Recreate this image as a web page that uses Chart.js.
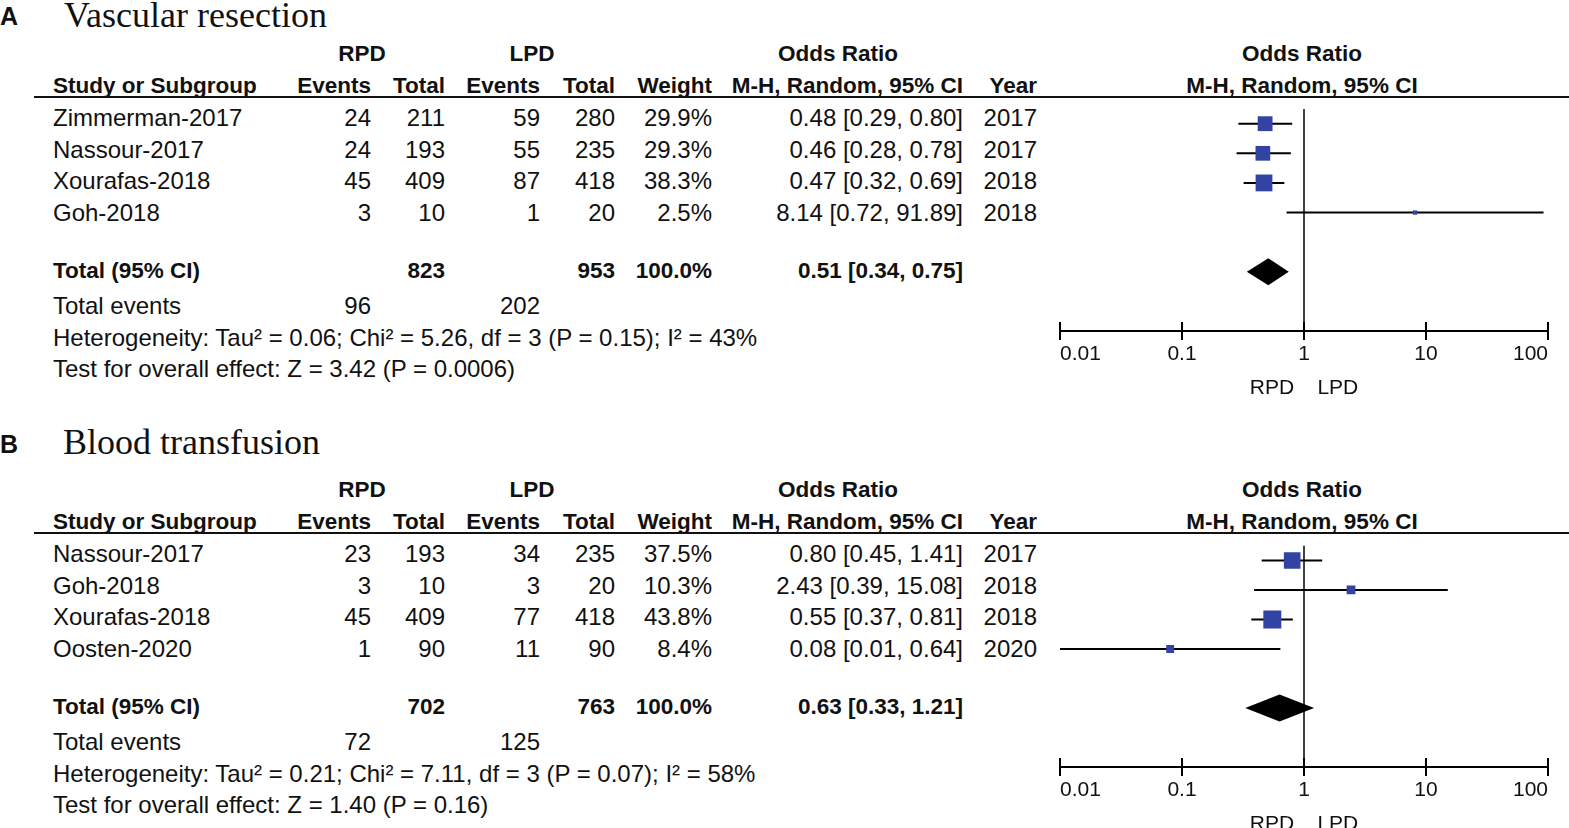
<!DOCTYPE html>
<html>
<head>
<meta charset="utf-8">
<script src="https://cdn.jsdelivr.net/npm/chart.js@4.4.1/dist/chart.umd.min.js"></script>
<style>
  html, body { margin: 0; padding: 0; background: #fff; }
  #page { position: relative; width: 1569px; height: 828px; overflow: hidden; }
  .plot { position: absolute; left: 1025px; width: 544px; height: 314px; }
</style>
</head>
<body>
<div id="page"></div>
<script>
// ---- data: panel A, vascular resection ----
var studiesA = ['Zimmerman-2017', 'Nassour-2017', 'Xourafas-2018', 'Goh-2018'];
var rpdEventsA = [24, 24, 45, 3];
var rpdTotalA = [211, 193, 409, 10];
var lpdEventsA = [59, 55, 87, 1];
var lpdTotalA = [280, 235, 418, 20];
var weightA = [29.9, 29.3, 38.3, 2.5];
var orA = [0.48, 0.46, 0.47, 8.14];
var loA = [0.29, 0.28, 0.32, 0.72];
var hiA = [0.80, 0.78, 0.69, 91.89];
var yearA = [2017, 2017, 2018, 2018];
var totalsA = [823, 953];
var totalEventsA = [96, 202];
var pooledA = [0.51, 0.34, 0.75];
var hetA = 'Heterogeneity: Tau² = 0.06; Chi² = 5.26, df = 3 (P = 0.15); I² = 43%';
var testA = 'Test for overall effect: Z = 3.42 (P = 0.0006)';

// ---- data: panel B, blood transfusion ----
var studiesB = ['Nassour-2017', 'Goh-2018', 'Xourafas-2018', 'Oosten-2020'];
var rpdEventsB = [23, 3, 45, 1];
var rpdTotalB = [193, 10, 409, 90];
var lpdEventsB = [34, 3, 77, 11];
var lpdTotalB = [235, 20, 418, 90];
var weightB = [37.5, 10.3, 43.8, 8.4];
var orB = [0.80, 2.43, 0.55, 0.08];
var loB = [0.45, 0.39, 0.37, 0.01];
var hiB = [1.41, 15.08, 0.81, 0.64];
var yearB = [2017, 2018, 2018, 2020];
var totalsB = [702, 763];
var totalEventsB = [72, 125];
var pooledB = [0.63, 0.33, 1.21];
var hetB = 'Heterogeneity: Tau² = 0.21; Chi² = 7.11, df = 3 (P = 0.07); I² = 58%';
var testB = 'Test for overall effect: Z = 1.40 (P = 0.16)';

// ---- axis ----
var tickValues = [0.01, 0.1, 1, 10, 100];
var tickLabels = ['0.01', '0.1', '1', '10', '100'];

var SANS = "'Liberation Sans', Arial, sans-serif";
var SERIF = "'Liberation Serif', 'Times New Roman', serif";
var page = document.getElementById('page');

function txt(x, cy, s, align, bold, size, family) {
  var d = document.createElement('div');
  d.textContent = s;
  var tx = align === 'right' ? '-100%' : (align === 'center' ? '-50%' : '0');
  d.style.cssText = 'position:absolute;white-space:pre;color:#111;' +
    'font:' + (bold ? 'bold ' : '') + size + 'px ' + (family || SANS) + ';line-height:1;' +
    'left:' + x + 'px;top:' + cy + 'px;transform:translate(' + tx + ',-50%)';
  page.appendChild(d);
}

function ci(v, lo, hi) {
  return v.toFixed(2) + ' [' + lo.toFixed(2) + ', ' + hi.toFixed(2) + ']';
}

// columns (right edges except study)
var col = { study: 53, rpdEv: 371, rpdTot: 445, lpdEv: 540, lpdTot: 615, weight: 712, or: 963, year: 1037 };
var R = 24, B = 22.5;

function table(base, studies, rpdEv, rpdTot, lpdEv, lpdTot, weight, or, lo, hi, year, totals, totEv, pooled, het, test) {
  txt(col.rpdEv - 9, 54 + base, 'RPD', 'center', true, B);
  txt(532, 54 + base, 'LPD', 'center', true, B);
  txt(838, 54 + base, 'Odds Ratio', 'center', true, B);
  txt(1302, 54 + base, 'Odds Ratio', 'center', true, B);

  txt(col.study, 86 + base, 'Study or Subgroup', 'left', true, B);
  txt(col.rpdEv, 86 + base, 'Events', 'right', true, B);
  txt(col.rpdTot, 86 + base, 'Total', 'right', true, B);
  txt(col.lpdEv, 86 + base, 'Events', 'right', true, B);
  txt(col.lpdTot, 86 + base, 'Total', 'right', true, B);
  txt(col.weight, 86 + base, 'Weight', 'right', true, B);
  txt(col.or, 86 + base, 'M-H, Random, 95% CI', 'right', true, B);
  txt(col.year, 86 + base, 'Year', 'right', true, B);
  txt(1302, 86 + base, 'M-H, Random, 95% CI', 'center', true, B);

  var line = document.createElement('div');
  line.style.cssText = 'position:absolute;left:34px;width:1535px;height:2px;background:#111;top:' + (96 + base) + 'px';
  page.appendChild(line);

  studies.forEach(function (s, i) {
    var y = 118 + i * 31.7 + base;
    txt(col.study, y, s, 'left', false, R);
    txt(col.rpdEv, y, String(rpdEv[i]), 'right', false, R);
    txt(col.rpdTot, y, String(rpdTot[i]), 'right', false, R);
    txt(col.lpdEv, y, String(lpdEv[i]), 'right', false, R);
    txt(col.lpdTot, y, String(lpdTot[i]), 'right', false, R);
    txt(col.weight, y, weight[i].toFixed(1) + '%', 'right', false, R);
    txt(col.or, y, ci(or[i], lo[i], hi[i]), 'right', false, R);
    txt(col.year, y, String(year[i]), 'right', false, R);
  });

  txt(col.study, 271 + base, 'Total (95% CI)', 'left', true, B);
  txt(col.rpdTot, 271 + base, String(totals[0]), 'right', true, B);
  txt(col.lpdTot, 271 + base, String(totals[1]), 'right', true, B);
  txt(col.weight, 271 + base, '100.0%', 'right', true, B);
  txt(col.or, 271 + base, ci(pooled[0], pooled[1], pooled[2]), 'right', true, B);

  txt(col.study, 306 + base, 'Total events', 'left', false, R);
  txt(col.rpdEv, 306 + base, String(totEv[0]), 'right', false, R);
  txt(col.lpdEv, 306 + base, String(totEv[1]), 'right', false, R);
  txt(col.study, 338 + base, het, 'left', false, R);
  txt(col.study, 369 + base, test, 'left', false, R);
}

// null line, upper half of ticks and the pooled diamond
var forestExtras = {
  id: 'forestExtras',
  afterDatasetsDraw: function (chart, args, opts) {
    var ctx = chart.ctx, area = chart.chartArea;
    var x = chart.scales.x, y = chart.scales.y;
    ctx.save();
    ctx.strokeStyle = '#000';
    ctx.lineWidth = 1.5;
    ctx.beginPath();
    var x1 = x.getPixelForValue(1);
    ctx.moveTo(x1, area.top);
    ctx.lineTo(x1, area.bottom);
    ctx.stroke();

    ctx.lineWidth = 2;
    ctx.beginPath();
    x.ticks.forEach(function (t) {
      var px = x.getPixelForValue(t.value);
      ctx.moveTo(px, area.bottom - 9);
      ctx.lineTo(px, area.bottom);
    });
    ctx.stroke();

    var p = opts.pooled;
    var yc = y.getPixelForValue(opts.row);
    var xm = x.getPixelForValue(p[0]), xl = x.getPixelForValue(p[1]), xr = x.getPixelForValue(p[2]);
    ctx.fillStyle = '#000';
    ctx.beginPath();
    ctx.moveTo(xl, yc);
    ctx.lineTo(xm, yc - 13.5);
    ctx.lineTo(xr, yc);
    ctx.lineTo(xm, yc + 13.5);
    ctx.closePath();
    ctx.fill();
    ctx.restore();
  }
};

function forest(base, or, lo, hi, weight, pooled) {
  var box = document.createElement('div');
  box.className = 'plot';
  box.style.top = (97 + base) + 'px';
  var cv = document.createElement('canvas');
  box.appendChild(cv);
  page.appendChild(box);

  var sets = or.map(function (v, i) {
    return {
      type: 'line',
      data: [{ x: lo[i], y: i }, { x: hi[i], y: i }],
      borderColor: '#000',
      borderWidth: 2,
      pointRadius: 0,
      order: 2
    };
  });
  sets.push({
    type: 'scatter',
    data: or.map(function (v, i) { return { x: v, y: i }; }),
    pointStyle: 'rect',
    pointRadius: weight.map(function (w) { return 1.92 * Math.sqrt(w); }),
    backgroundColor: '#3343a4',
    borderWidth: 0,
    order: 1
  });

  new Chart(cv, {
    type: 'scatter',
    data: { datasets: sets },
    plugins: [forestExtras],
    options: {
      responsive: true,
      maintainAspectRatio: false,
      animation: false,
      layout: { padding: { left: 35, right: 21, top: 0, bottom: 10 } },
      plugins: {
        legend: { display: false },
        tooltip: { enabled: false },
        forestExtras: { pooled: pooled, row: or.length + 1 }
      },
      scales: {
        x: {
          type: 'logarithmic',
          min: 0.01,
          max: 100,
          position: 'bottom',
          afterBuildTicks: function (s) { s.ticks = tickValues.map(function (v) { return { value: v }; }); },
          afterFit: function (s) { s.height = 70; },
          ticks: {
            autoSkip: false,
            maxRotation: 0,
            align: 'inner',
            padding: 2,
            color: '#111',
            font: { family: SANS, size: 21 },
            callback: function (v, i) { return tickLabels[i]; }
          },
          grid: { drawOnChartArea: false, drawTicks: true, tickLength: 9, color: '#000', lineWidth: 2 },
          border: { display: true, color: '#000', width: 2 },
          title: {
            display: true,
            text: 'RPD    LPD',
            color: '#111',
            font: { family: SANS, size: 21 },
            padding: { top: 3, bottom: 0 }
          }
        },
        y: { type: 'linear', min: -0.5, max: 7, reverse: true, display: false }
      }
    }
  });
}

// titles
txt(0, 16, 'A', 'left', true, 25);
txt(64, 15, 'Vascular resection', 'left', false, 36, SERIF);
txt(0, 444, 'B', 'left', true, 25);
txt(63, 442, 'Blood transfusion', 'left', false, 36, SERIF);

table(0, studiesA, rpdEventsA, rpdTotalA, lpdEventsA, lpdTotalA, weightA, orA, loA, hiA, yearA, totalsA, totalEventsA, pooledA, hetA, testA);
table(436, studiesB, rpdEventsB, rpdTotalB, lpdEventsB, lpdTotalB, weightB, orB, loB, hiB, yearB, totalsB, totalEventsB, pooledB, hetB, testB);
forest(0, orA, loA, hiA, weightA, pooledA);
forest(436, orB, loB, hiB, weightB, pooledB);
</script>
</body>
</html>
